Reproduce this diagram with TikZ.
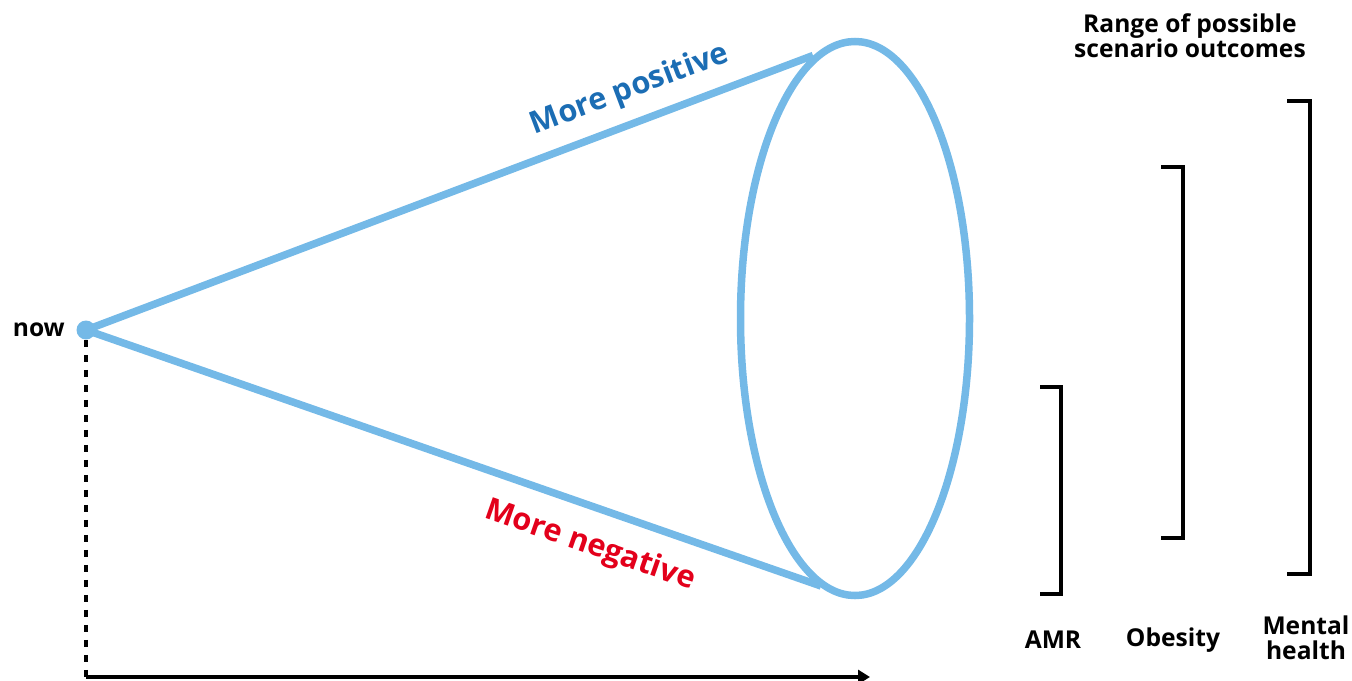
\documentclass[tikz,border=0pt]{standalone}
\usepackage{fontspec}
\setmainfont{Open Sans}
\usepackage{tikz}
\usetikzlibrary{arrows.meta,calc,positioning}
\usepackage{xcolor}
\definecolor{conecol}{HTML}{74B9E7}
\definecolor{poscol}{HTML}{1B6DB4}
\definecolor{negcol}{HTML}{E3001B}

\begin{document}
\begin{tikzpicture}[x=0.02cm, y=-0.02cm,
  cone/.style={draw=conecol, line width=0.15cm},
  dot/.style={circle, fill=conecol, inner sep=0, minimum size=0.38cm},
  lbl/.style={font=\fontsize{14}{14.2}\selectfont\bfseries, align=center, inner sep=0},
  trend/.style={font=\fontsize{17.5}{18}\selectfont\bfseries, inner sep=0},
  spanbar/.style={draw=black, line width=0.07cm}]

\useasboundingbox (0,0) rectangle (1352,680);

% cone of futures
\coordinate (ctr) at (855,318.5);
\draw[cone] (ctr) ellipse [x radius=114.5, y radius=277];
\coordinate (ptop) at ($(ctr)+(-42,-263)$);
\coordinate (pbot) at ($(ctr)+(-34,267.5)$);
\node[dot] (now) at (86,330) {};
\node[lbl, left=0.22cm of now] (nowlbl) {now};
\draw[cone] (now.center) -- (ptop);
\draw[cone] (now.center) -- (pbot);
\node[trend, text=poscol, rotate=20.6] (pos) at (630,90) {More positive};
\node[trend, text=negcol, rotate=-19.2] (neg) at (590,546) {More negative};

% time axis
\coordinate (axo) at (86,677);
\coordinate (axe) at (870,677);
\draw[line width=0.07cm, dash pattern=on 0.14cm off 0.16cm] (now.south) -- (axo);
\draw[line width=0.08cm, -{Triangle[length=0.24cm, width=0.28cm]}] (axo) -- (axe);

% ranges
\node[lbl] (title) at (1190,36) {Range of possible\\scenario outcomes};
\draw[spanbar] (1040,387) -| (1061,594) -- (1040,594);
\draw[spanbar] (1161,167) -| (1183,538) -- (1161,538);
\draw[spanbar] (1287,101) -| (1310,574) -- (1287,574);
\node[lbl] (amr) at (1053,640) {AMR};
\node[lbl] (obes) at (1173,640) {Obesity};
\node[lbl] (ment) at (1306,638) {Mental\\health};

\end{tikzpicture}
\end{document}
